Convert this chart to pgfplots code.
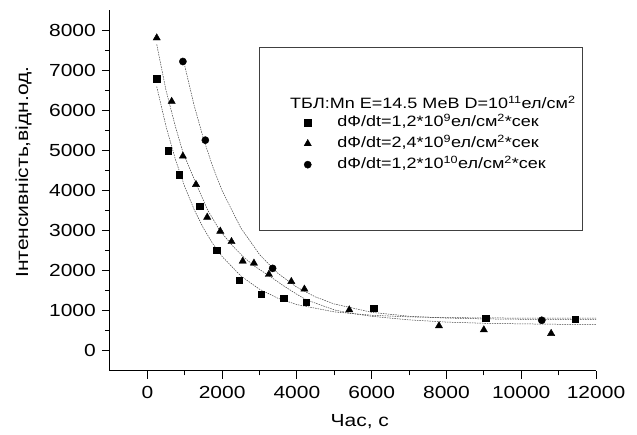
\documentclass[border=0pt]{standalone}
\usepackage{fontspec}
\setmainfont[FakeStretch=1.2]{Liberation Sans}
\usepackage{pgfplots}
\pgfplotsset{compat=1.18}
\begin{document}
\begin{tikzpicture}[x=1pt,y=1pt]
\path[use as bounding box] (-110,-64) rectangle (527,371);
\begin{axis}[
  at={(0,0)}, anchor=south west,
  scale only axis, width=486pt, height=361pt,
  xmin=-1000, xmax=12000, ymin=-520, ymax=8520,
  axis lines*=left,
  axis line style={-, line width=1pt, black},
  tick align=outside,
  major tick length=8pt, minor tick length=4.5pt,
  tick style={line width=0.9pt, black},
  xtick={0,2000,4000,6000,8000,10000,12000},
  ytick={0,1000,2000,3000,4000,5000,6000,7000,8000},
  minor x tick num=1, minor y tick num=1,
  scaled x ticks=false, scaled y ticks=false,
  /pgf/number format/assume math mode=true,
  /pgf/number format/1000 sep={},
  tick label style={font=\fontsize{17.5}{20}\selectfont},
  xticklabel style={inner sep=2pt, yshift=-5pt},
  yticklabel style={inner sep=3pt, xshift=-3pt},
  label style={font=\fontsize{17.5}{20}\selectfont},
  xlabel={Час, с},
  ylabel={Інтенсивність,відн.од.},
  xlabel style={at={(axis description cs:0.514,-0.155)}, anchor=base},
  ylabel style={at={(axis description cs:-0.1687,0.551)}, anchor=base},
  clip=false,
  legend style={draw=none, fill=none, at={(rel axis cs:0.399,0.712)}, anchor=north west,
    font=\fontsize{15}{18}\selectfont, inner sep=0pt, row sep=4pt,
    nodes={inner ysep=0.5pt, text height=12pt, text depth=4pt}},
  legend cell align=left,
  legend image code/.code={\draw[#1] plot coordinates {(0pt,0pt)};},
  /tikz/every even column/.append style={column sep=0pt},
  /tikz/every odd column/.append style={column sep=24pt},
]
% fitted curves
\addplot[forget plot, black!75, line width=0.5pt, dash pattern=on 1.5pt off 1pt] coordinates {
(250,6600)(500,5602)(750,4776)(1000,4092)(1250,3525)(1500,3056)(1750,2668)(2000,2347)
(2500,1860)(3000,1527)(3500,1298)(4000,1142)(5000,960)(6000,875)(7000,835)(8000,817)
(10000,804)(12000,801)};
\addplot[forget plot, black!75, line width=0.5pt, dash pattern=on 1.5pt off 1pt] coordinates {
(250,7660)(500,6500)(750,5600)(953,4950)(1312,4150)(1606,3520)(1936,3000)(2292,2600)
(2578,2330)(2873,2100)(3248,1870)(3600,1640)(4000,1400)(4257,1260)(5000,1010)(5400,930)
(6000,850)(7000,760)(8000,705)(9000,675)(10000,660)(11000,650)(12000,645)};
\addplot[forget plot, black!75, line width=0.5pt, dash pattern=on 1.5pt off 1pt] coordinates {
(1000,7120)(1250,6132)(1500,5298)(1750,4591)(2000,3994)(2500,3062)(3000,2395)(3500,1918)
(4000,1577)(4500,1333)(5000,1158)(6000,950)(7000,850)(8000,805)(9000,785)(10000,775)
(11000,770)(12000,765)};
% data
\addplot[only marks, mark=square*, mark size=3.2pt, black, mark options={line width=0.4pt}] coordinates {
(250,6800)(550,5000)(850,4400)(1400,3600)(1850,2500)(2450,1750)(3050,1400)(3650,1300)
(4250,1200)(6050,1050)(9050,800)(11450,780)};
\addlegendentry{dФ/dt=1,2*10\textsuperscript{9}ел/см\textsuperscript{2}*сек}
\addplot[only marks, mark=triangle*, mark size=4.2pt, black, mark options={line width=0.4pt}] coordinates {
(250,7820)(650,6230)(950,4860)(1300,4150)(1600,3330)(1950,2980)(2250,2720)(2550,2230)
(2850,2180)(3250,1900)(3850,1720)(4200,1530)(5400,1010)(7800,610)(9000,510)(10800,420)};
\addlegendentry{dФ/dt=2,4*10\textsuperscript{9}ел/см\textsuperscript{2}*сек}
\addplot[only marks, mark=*, mark size=3.6pt, black, mark options={line width=0.4pt}] coordinates {
(950,7230)(1550,5260)(3350,2050)(10550,750)};
\addlegendentry{dФ/dt=1,2*10\textsuperscript{10}ел/см\textsuperscript{2}*сек}
% legend frame and title
\draw[black!75, line width=0.9pt] (rel axis cs:0.3066,0.8975) rectangle (rel axis cs:0.973,0.3906);
\node[anchor=west, inner sep=0pt, font=\fontsize{15}{18}\selectfont] at (rel axis cs:0.3704,0.745)
  {ТБЛ:Mn E=14.5 МеВ D=10\textsuperscript{11}ел/см\textsuperscript{2}};
\end{axis}
\end{tikzpicture}
\end{document}
